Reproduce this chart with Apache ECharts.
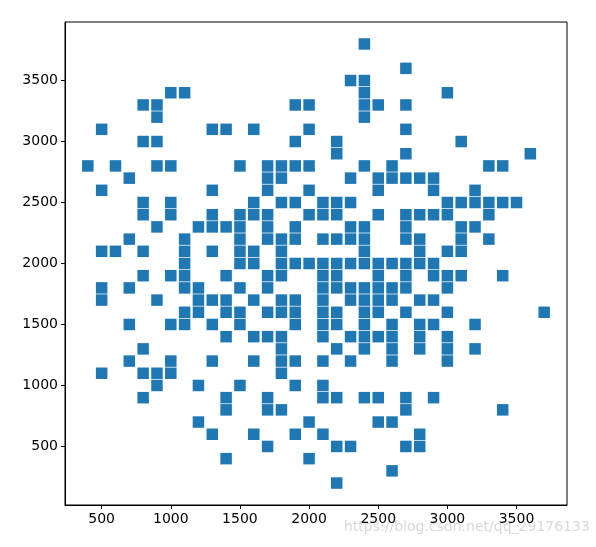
<!DOCTYPE html>
<html>
<head>
<meta charset="utf-8">
<script src="https://cdn.jsdelivr.net/npm/echarts@6/dist/echarts.min.js"></script>
<style>
html,body{margin:0;padding:0;background:#fff;}
#chart{width:596px;height:547px;}
</style>
</head>
<body>
<div id="chart"></div>
<script>
// y level of each row, and the x values of the squares in that row
const yLevels = [3800, 3600, 3500, 3400, 3300, 3200, 3100, 3000, 2900, 2800, 2700, 2600, 2500, 2400, 2300, 2200, 2100, 2000, 1900, 1800, 1700, 1600, 1500, 1400, 1300, 1200, 1100, 1000, 900, 800, 700, 600, 500, 400, 300, 200];
const xAtLevel = [
  [2400],
  [2700],
  [2300, 2400],
  [1000, 1100, 2400, 3000],
  [800, 900, 1900, 2000, 2400, 2500, 2700],
  [900, 2400],
  [500, 1300, 1400, 1600, 2000, 2700],
  [800, 900, 1900, 2200, 3100],
  [2200, 2700, 3600],
  [400, 600, 900, 1000, 1500, 1700, 1800, 1900, 2000, 2400, 2600, 3300, 3400],
  [700, 1700, 1800, 2300, 2500, 2600, 2700, 2800, 2900],
  [500, 1300, 1700, 2000, 2500, 2900, 3200],
  [800, 1000, 1600, 1800, 1900, 2100, 2200, 2300, 3000, 3100, 3200, 3300, 3400, 3500],
  [800, 1000, 1300, 1500, 1600, 1700, 2000, 2100, 2200, 2500, 2700, 2800, 2900, 3000, 3300],
  [900, 1200, 1300, 1400, 1500, 1700, 1900, 2300, 2400, 2700, 3100, 3200],
  [700, 1100, 1500, 1700, 1800, 1900, 2100, 2200, 2300, 2400, 2700, 2800, 3100, 3300],
  [500, 600, 800, 1100, 1300, 1500, 1600, 1800, 2400, 2800, 3000, 3100],
  [1100, 1500, 1600, 1800, 1900, 2000, 2100, 2200, 2300, 2400, 2500, 2600, 2700, 2800, 2900],
  [800, 1000, 1100, 1400, 1700, 1800, 2100, 2200, 2500, 2700, 2900, 3000, 3100, 3400],
  [500, 700, 1100, 1200, 1500, 1700, 2100, 2200, 2300, 2400, 2500, 2600, 2700, 3000],
  [500, 900, 1200, 1300, 1400, 1600, 1800, 1900, 2100, 2300, 2400, 2500, 2600, 2800, 2900],
  [1100, 1200, 1400, 1500, 1700, 1800, 1900, 2100, 2200, 2400, 2500, 2700, 3000, 3700],
  [700, 1000, 1100, 1300, 1500, 1900, 2100, 2200, 2400, 2600, 2800, 2900, 3200],
  [1400, 1600, 1700, 1800, 2100, 2300, 2400, 2500, 2600, 2800, 3000],
  [800, 1800, 2200, 2400, 2600, 2800, 3000, 3200],
  [700, 1000, 1300, 1600, 1800, 1900, 2100, 2300, 2600, 3000],
  [500, 800, 900, 1000, 1800],
  [900, 1200, 1500, 1900, 2100],
  [800, 1400, 1700, 2100, 2200, 2400, 2500, 2700, 2900],
  [1400, 1700, 1800, 2700, 3400],
  [1200, 2000, 2500, 2600],
  [1300, 1600, 1900, 2100, 2800],
  [1700, 2200, 2300, 2700, 2800],
  [1400, 2000],
  [2600],
  [2200]
];
const xTicks = [500, 1000, 1500, 2000, 2500, 3000, 3500];
const yTicks = [500, 1000, 1500, 2000, 2500, 3000, 3500];

const points = [];
yLevels.forEach((y, i) => { xAtLevel[i].forEach(x => points.push([x, y])); });

const chart = echarts.init(document.getElementById('chart'), null, {renderer: 'canvas'});
const labelStyle = {color: '#000', fontFamily: 'DejaVu Sans', fontSize: 14, formatter: v => String(v)};
chart.setOption({
  animation: false,
  backgroundColor: '#fff',
  grid: {left: 65, top: 22, right: 29, bottom: 42, show: true, borderColor: '#000', borderWidth: 1, backgroundColor: 'transparent'},
  xAxis: {
    type: 'value', min: 235, max: 3865,
    axisLine: {show: true, onZero: false, lineStyle: {color: '#000', width: 1}},
    axisTick: {show: true, length: 4, inside: false, customValues: xTicks, lineStyle: {color: '#000'}},
    axisLabel: Object.assign({customValues: xTicks, margin: 7}, labelStyle),
    splitLine: {show: false}
  },
  yAxis: {
    type: 'value', min: 20, max: 3980,
    axisLine: {show: true, onZero: false, lineStyle: {color: '#000', width: 1}},
    axisTick: {show: true, length: 4, inside: false, customValues: yTicks, lineStyle: {color: '#000'}},
    axisLabel: Object.assign({customValues: yTicks, margin: 7}, labelStyle),
    splitLine: {show: false}
  },
  series: [{
    type: 'scatter',
    symbol: 'rect',
    symbolSize: 11.5,
    itemStyle: {color: '#1f77b4', opacity: 1},
    data: points
  }],
  graphic: [{
    type: 'text', left: 344, top: 520,
    style: {text: 'https://blog.csdn.net/qq_29176133', fill: 'rgba(200,200,200,0.7)', font: '14px "DejaVu Sans"'}
  }]
});
</script>
</body>
</html>
